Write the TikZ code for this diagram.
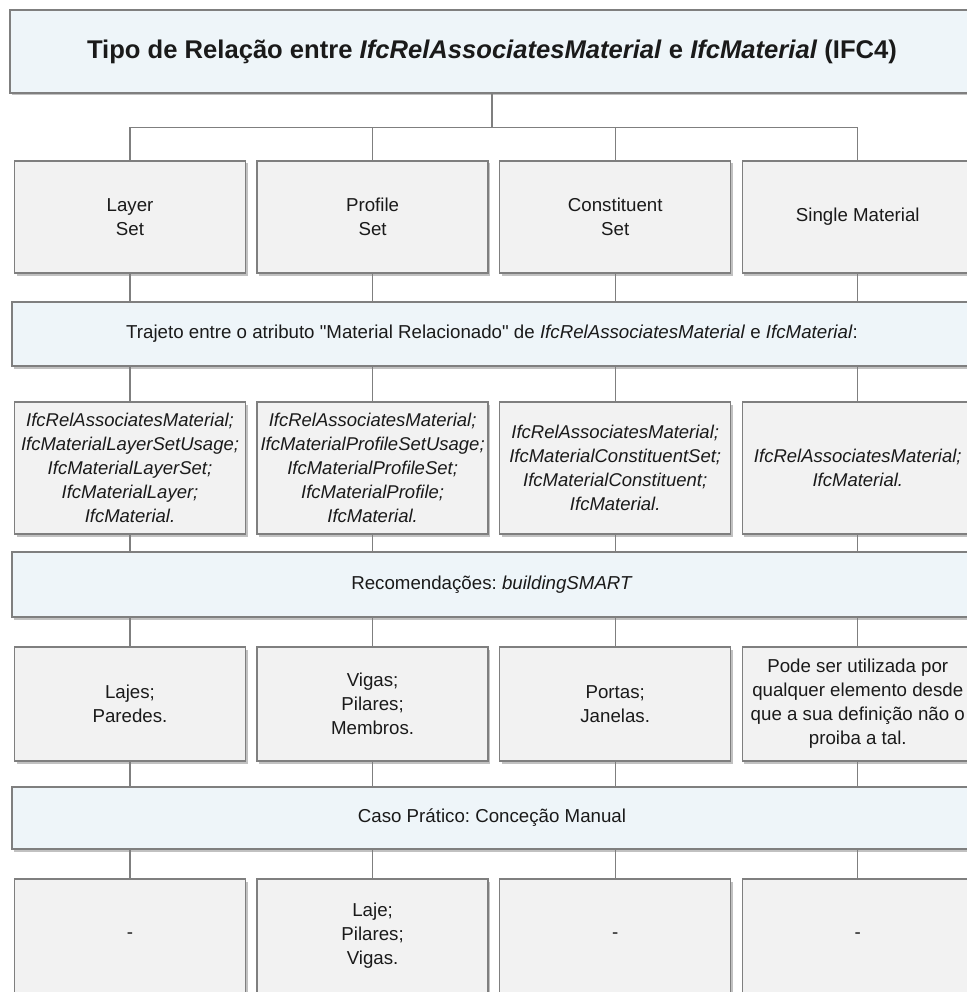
\documentclass[tikz,border=0pt]{standalone}
\usepackage{fontspec}
\setmainfont{Liberation Sans}
\usetikzlibrary{positioning}
\usetikzlibrary{calc}
\usetikzlibrary{shadows}

\definecolor{cellgray}{HTML}{F2F2F2}
\definecolor{bandblue}{HTML}{EEF5F9}
\definecolor{rulegray}{HTML}{7F7F7F}
\definecolor{inkgray}{HTML}{1A1A1A}
\frenchspacing
\newcommand{\straightquote}{\XeTeXglyph\XeTeXcharglyph34\relax}

\begin{document}
\begin{tikzpicture}[x=1pt,y=-1pt,semithick,text=inkgray,
			font=\fontsize{18.7}{24}\selectfont]
			\tikzstyle{cell}=[draw=rulegray,line width=1.3pt,fill=cellgray,align=center,
			inner sep=1pt,minimum width=231pt,
			drop shadow={shadow xshift=2pt,shadow yshift=-2.5pt,opacity=0.35,fill=black!70}]
			\tikzstyle{band}=[cell,fill=bandblue,minimum width=960pt]
			\tikzstyle{wire}=[draw=rulegray,line width=1.3pt]
			
			\useasboundingbox (0,0) rectangle (966,992);
			
			% title and the four relation types
			\node[band,minimum width=964pt,minimum height=83pt,
			font=\fontsize{25.6}{30}\selectfont\bfseries] (title) at (492,51.5)
			{Tipo de Relação entre \textit{IfcRelAssociatesMaterial} e \textit{IfcMaterial} (IFC4)};
			\coordinate (hub) at ($(title.south)+(0,34)$);
			
			\node[cell,minimum height=112pt] (typeL) at (130,217) {Layer\\Set};
			\node[cell,minimum height=112pt] (typeP) [right=10.3pt of typeL] {Profile\\Set};
			\node[cell,minimum height=112pt] (typeC) [right=10.3pt of typeP] {Constituent\\Set};
			\node[cell,minimum height=112pt] (typeS) [right=10.3pt of typeC] {Single Material};
			
			% path between the entities
			\node[band,minimum height=64pt] (trajeto) at (492,334)
			{Trajeto entre o atributo \straightquote Material Relacionado\straightquote{} de \textit{IfcRelAssociatesMaterial} e \textit{IfcMaterial}:};
			
			\node[cell,minimum height=132pt,font=\fontsize{18.5}{24}\selectfont\itshape] (pathL) at (130,468)
			{IfcRelAssociatesMaterial;\\IfcMaterialLayerSetUsage;\\IfcMaterialLayerSet;\\IfcMaterialLayer;\\IfcMaterial.};
			\node[cell,minimum height=132pt,font=\fontsize{18.5}{24}\selectfont\itshape] (pathP) [right=10.3pt of pathL]
			{IfcRelAssociatesMaterial;\\IfcMaterialProfileSetUsage;\\IfcMaterialProfileSet;\\IfcMaterialProfile;\\IfcMaterial.};
			\node[cell,minimum height=132pt,font=\fontsize{18.5}{24}\selectfont\itshape] (pathC) [right=10.3pt of pathP]
			{IfcRelAssociatesMaterial;\\IfcMaterialConstituentSet;\\IfcMaterialConstituent;\\IfcMaterial.};
			\node[cell,minimum height=132pt,font=\fontsize{18.5}{24}\selectfont\itshape] (pathS) [right=10.3pt of pathC]
			{IfcRelAssociatesMaterial;\\IfcMaterial.};
			
			% recommendations
			\node[band,minimum height=65pt] (recom) at (492,584.5)
			{Recomendações: \textit{buildingSMART}};
			
			\node[cell,minimum height=114pt] (recL) at (130,704) {Lajes;\\Paredes.};
			\node[cell,minimum height=114pt] (recP) [right=10.3pt of recL] {Vigas;\\Pilares;\\Membros.};
			\node[cell,minimum height=114pt] (recC) [right=10.3pt of recP] {Portas;\\Janelas.};
			\node[cell,minimum height=114pt] (recS) [right=10.3pt of recC]
			{Pode ser utilizada por\\qualquer elemento desde\\que a sua definição não o\\proiba a tal.};
			
			% practical case
			\node[band,minimum height=62pt] (caso) at (492,818)
			{Caso Prático: Conceção Manual};
			
			\node[cell,minimum height=114pt] (casoL) at (130,936) {-};
			\node[cell,minimum height=114pt] (casoP) [right=10.3pt of casoL] {Laje;\\Pilares;\\Vigas.};
			\node[cell,minimum height=114pt] (casoC) [right=10.3pt of casoP] {-};
			\node[cell,minimum height=114pt] (casoS) [right=10.3pt of casoC] {-};
			
			% connectors
			\draw[wire] (title.south) -- (hub);
			\draw[wire] (typeL.north) |- (hub) -| (typeS.north);
			\draw[wire] (typeP.north) |- (hub);
			\draw[wire] (typeC.north) |- (hub);
			
			\foreach \c in {L,P,C,S} {
				\draw[wire] (type\c.south) -- (type\c.south |- trajeto.north);
				\draw[wire] (path\c.north) -- (path\c.north |- trajeto.south);
				\draw[wire] (path\c.south) -- (path\c.south |- recom.north);
				\draw[wire] (rec\c.north) -- (rec\c.north |- recom.south);
				\draw[wire] (rec\c.south) -- (rec\c.south |- caso.north);
				\draw[wire] (caso\c.north) -- (caso\c.north |- caso.south);
			}
			
			\end{tikzpicture}
\end{document}
